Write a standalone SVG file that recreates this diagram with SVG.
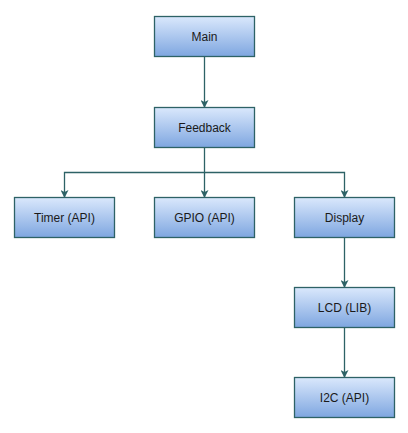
<svg xmlns="http://www.w3.org/2000/svg" width="408" height="433" viewBox="0 0 408 433">
<defs>
<linearGradient id="g" x1="0" y1="0" x2="0" y2="1">
<stop offset="0" stop-color="#dae8fc"/>
<stop offset="1" stop-color="#7ea6e0"/>
</linearGradient>
<marker id="arr" markerWidth="8" markerHeight="8" viewBox="0 0 8 8" refX="7" refY="4" orient="auto" markerUnits="userSpaceOnUse">
<path d="M0,0 L8,4 L0,8 L2,4 Z" fill="#2d6266"/>
</marker>
<style>
.box{fill:url(#g);stroke:#2d6266;stroke-width:1.3}
.lbl{font-family:"Liberation Sans",Arial,sans-serif;font-size:12px;fill:#1a1a1a;text-anchor:middle;dominant-baseline:central}
.edge{fill:none;stroke:#2d6266;stroke-width:1.3;marker-end:url(#arr)}
</style>
</defs>
<rect width="408" height="433" fill="#fff"/>
<g id="connectors">
<path class="edge" d="M204.5,56.5 V107"/>
<path class="edge" d="M204.5,147.5 V172.5 H64.5 V197"/>
<path class="edge" d="M204.5,172.5 V197"/>
<path class="edge" d="M204.5,172.5 H344.5 V197"/>
<path class="edge" d="M344.5,237.5 V287"/>
<path class="edge" d="M344.5,327.5 V377"/>
</g>
<g id="main"><rect class="box" x="154.5" y="16.5" width="100" height="40"/><text class="lbl" x="204.5" y="36.5">Main</text></g>
<g id="feedback"><rect class="box" x="154.5" y="107.5" width="100" height="40"/><text class="lbl" x="204.5" y="127.5">Feedback</text></g>
<g id="timer"><rect class="box" x="14.5" y="197.5" width="100" height="40"/><text class="lbl" x="64.5" y="217.5">Timer (API)</text></g>
<g id="gpio"><rect class="box" x="154.5" y="197.5" width="100" height="40"/><text class="lbl" x="204.5" y="217.5">GPIO (API)</text></g>
<g id="display"><rect class="box" x="294.5" y="197.5" width="100" height="40"/><text class="lbl" x="344.5" y="217.5">Display</text></g>
<g id="lcd"><rect class="box" x="294.5" y="287.5" width="100" height="40"/><text class="lbl" x="344.5" y="307.5">LCD (LIB)</text></g>
<g id="i2c"><rect class="box" x="294.5" y="377.5" width="100" height="40"/><text class="lbl" x="344.5" y="397.5">I2C (API)</text></g>
</svg>
